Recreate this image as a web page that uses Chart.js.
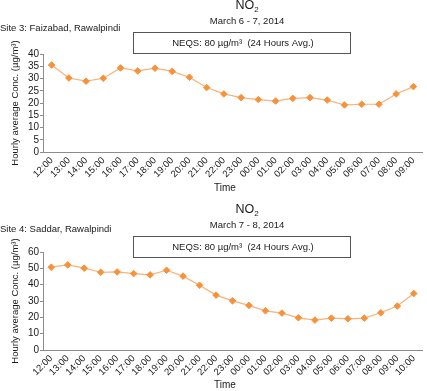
<!DOCTYPE html>
<html>
<head>
<meta charset="utf-8">
<script src="https://cdn.jsdelivr.net/npm/chart.js@4.4.1/dist/chart.umd.min.js"></script>
<style>
  html, body { margin: 0; padding: 0; background: #fff; }
  #wrap { position: relative; width: 427px; height: 391px; overflow: hidden; }
  canvas { position: absolute; left: 0; }
  #c1 { top: 0; }
  #c2 { top: 196px; }
</style>
</head>
<body>
<div id="wrap">
  <canvas id="c1" width="427" height="196"></canvas>
  <canvas id="c2" width="427" height="195"></canvas>
</div>
<script>
// ---- data ----
const timesSite3 = ["12:00","13:00","14:00","15:00","16:00","17:00","18:00","19:00","20:00","21:00","22:00","23:00","00:00","01:00","02:00","03:00","04:00","05:00","06:00","07:00","08:00","09:00"];
const no2Site3 = [35.5, 30.2, 28.9, 30.1, 34.3, 33.1, 34.2, 32.9, 30.5, 26.3, 23.7, 22.2, 21.4, 20.8, 21.9, 22.2, 21.2, 19.2, 19.5, 19.5, 23.7, 26.7];

const timesSite4 = ["12:00","13:00","14:00","15:00","16:00","17:00","18:00","19:00","20:00","21:00","22:00","23:00","00:00","01:00","02:00","03:00","04:00","05:00","06:00","07:00","08:00","09:00","10:00"];
const no2Site4 = [50.7, 52.1, 50.1, 47.6, 47.8, 46.8, 46.0, 48.8, 45.2, 39.6, 33.6, 30.1, 27.3, 24.0, 22.6, 19.7, 18.3, 19.5, 19.1, 19.5, 22.8, 26.9, 34.6];

const yTicksSite3 = { min: 0, max: 40, step: 5 };
const yTicksSite4 = { min: 0, max: 60, step: 10 };

const siteNames = ["Site 3: Faizabad, Rawalpindi", "Site 4: Saddar, Rawalpindi"];
const dateRanges = ["March 6 - 7, 2014", "March 7 - 8, 2014"];
const neqsText = "NEQS: 80 µg/m³  (24 Hours Avg.)";
const yTitle = "Hourly average Conc. (µg/m³)";
const xTitle = "Time";

// ---- styling ----
const FONT = '"Liberation Sans", Arial, sans-serif';
const TXT = '#1a1a1a';
const AXIS = '#8c8c8c';
const LINE = '#f9b27a';
const MARK = '#f7923a';

const annot = {
  id: 'annot',
  afterDraw(chart, args, o) {
    const ctx = chart.ctx;
    ctx.save();
    ctx.fillStyle = TXT;
    ctx.textBaseline = 'middle';
    // NO2 title
    ctx.font = '12.5px ' + FONT;
    const wNO = ctx.measureText('NO').width;
    ctx.font = '8px ' + FONT;
    const w2 = ctx.measureText('2').width;
    const tx = o.cx - (wNO + w2) / 2;
    ctx.textAlign = 'left';
    ctx.font = '12.5px ' + FONT;
    ctx.fillText('NO', tx, o.titleY);
    ctx.font = '8px ' + FONT;
    ctx.fillText('2', tx + wNO, o.titleY + 4);
    // subtitle
    ctx.font = '9.5px ' + FONT;
    ctx.textAlign = 'center';
    ctx.fillText(o.sub, o.cx, o.subY);
    // site label
    ctx.textAlign = 'left';
    ctx.font = '9.5px ' + FONT;
    ctx.fillText(o.site, 0, o.siteY);
    // NEQS box
    ctx.strokeStyle = '#555';
    ctx.lineWidth = 1;
    ctx.strokeRect(o.box[0] + 0.5, o.box[1] + 0.5, o.box[2], o.box[3]);
    ctx.font = '9.5px ' + FONT;
    ctx.textAlign = 'center';
    ctx.fillText(neqsText, o.boxTextX, o.box[1] + o.box[3] / 2 + 0.5);
    // x title
    ctx.font = '10px ' + FONT;
    ctx.fillText(xTitle, o.timeX, o.timeY);
    ctx.restore();
  }
};

function makeChart(id, labels, values, yt, H, plotTop, plotBottom, ann) {
  return new Chart(document.getElementById(id), {
    type: 'line',
    data: {
      labels: labels,
      datasets: [{
        data: values,
        borderColor: LINE,
        borderWidth: 1.2,
        backgroundColor: MARK,
        pointBackgroundColor: MARK,
        pointBorderColor: MARK,
        pointStyle: 'rectRot',
        pointRadius: 3.3,
        pointBorderWidth: 1,
        tension: 0,
        fill: false
      }]
    },
    options: {
      responsive: false,
      animation: false,
      devicePixelRatio: 1,
      layout: { padding: { left: 0, right: 0, top: plotTop, bottom: 0 } },
      plugins: {
        legend: { display: false },
        tooltip: { enabled: false },
        title: { display: false },
        annot: ann
      },
      scales: {
        x: {
          type: 'category',
          offset: true,
          grid: { display: false, drawTicks: false },
          border: { color: AXIS, width: 1 },
          ticks: {
            autoSkip: false, minRotation: 45, maxRotation: 45,
            color: TXT, padding: 3, font: { family: FONT, size: 9.5 }
          },
          afterFit(s) { s.height = H - plotBottom; }
        },
        y: {
          min: yt.min, max: yt.max,
          grid: { drawOnChartArea: false, drawTicks: true, tickLength: 3, color: AXIS },
          border: { color: AXIS, width: 1 },
          ticks: { stepSize: yt.step, autoSkip: false, color: TXT, padding: 1, font: { family: FONT, size: 10 } },
          title: {
            display: true, text: yTitle, color: TXT,
            font: { family: FONT, size: 9.5 }, padding: { top: 10, bottom: 0 }
          },
          afterFit(s) { s.width = 43; }
        }
      }
    },
    plugins: [annot]
  });
}

makeChart('c1', timesSite3, no2Site3, yTicksSite3, 196, 54, 152, {
  cx: 247, titleY: 6, sub: dateRanges[0], subY: 21, site: siteNames[0], siteY: 28,
  box: [133, 32, 217, 21], boxTextX: 243, timeX: 225, timeY: 188
});
makeChart('c2', timesSite4, no2Site4, yTicksSite4, 195, 56, 154, {
  cx: 247, titleY: 14, sub: dateRanges[1], subY: 29, site: siteNames[1], siteY: 33.5,
  box: [133, 40, 217, 21], boxTextX: 243, timeX: 225, timeY: 189
});
</script>
</body>
</html>
